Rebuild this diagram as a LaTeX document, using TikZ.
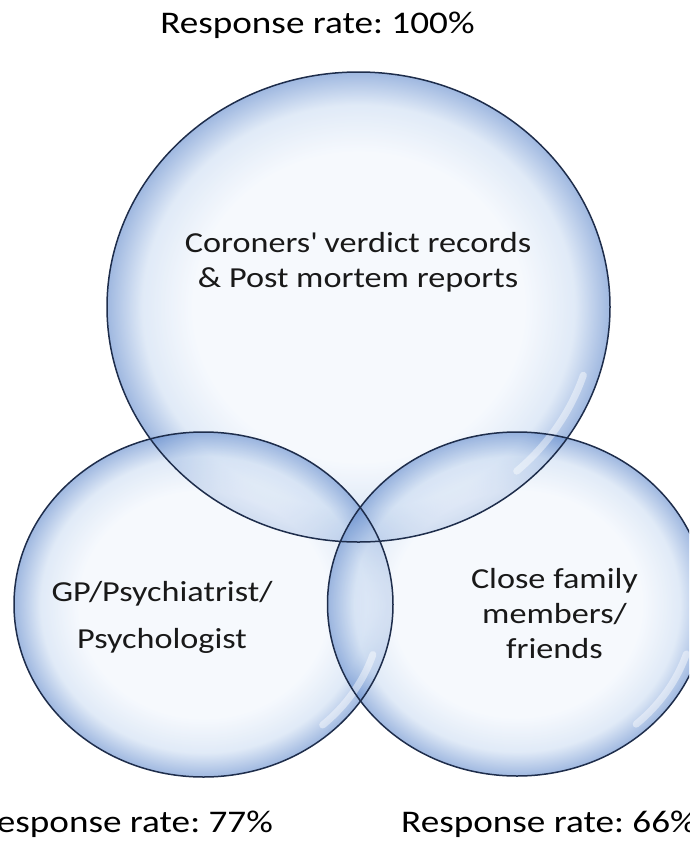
\documentclass[tikz,border=0pt]{standalone}
\usepackage{fontspec}
\setmainfont{Carlito}[FakeStretch=1.18]
\frenchspacing
\definecolor{bubcore}{RGB}{240,245,252}
\definecolor{bubmid}{RGB}{205,221,242}
\definecolor{bubrim}{RGB}{100,140,205}
\definecolor{bubline}{RGB}{30,45,75}
\definecolor{labeltext}{RGB}{25,25,25}
\pgfdeclareradialshading{bubble}{\pgfpointorigin}{color(0bp)=(bubcore); color(16.5bp)=(bubcore); color(21.5bp)=(bubmid); color(25bp)=(bubrim); color(50bp)=(bubrim)}

\begin{document}
\begin{tikzpicture}[x=1pt,y=-1pt,
  rate/.style={font=\fontsize{31.5}{38}\selectfont, text=black, inner sep=0pt},
  inlabel/.style={font=\fontsize{29}{35}\selectfont, text=labeltext, align=center, inner sep=0pt},
  bubedge/.style={draw=bubline, line width=1.5pt},
  shine/.style={white, line width=7pt, opacity=0.45, line cap=round}]
\useasboundingbox (0,0) rectangle (689,841);
\clip (0,0) rectangle (689,841);

\foreach \cx/\cy/\rx/\ry in {358.5/307/251.5/235, 203.5/604.5/189.5/172.5, 517/604/189.5/172}
  \shade[shading=bubble, fill opacity=0.62] (\cx,\cy) ellipse [x radius=\rx, y radius=\ry];

\foreach \cx/\cy/\rx/\ry in {358.5/307/251.5/235, 203.5/604.5/189.5/172.5, 517/604/189.5/172}
  \draw[shine] (\cx,\cy) ++(18:{0.94*\rx} and {0.94*\ry})
    arc [start angle=18, end angle=48, x radius=0.94*\rx, y radius=0.94*\ry];

\foreach \cx/\cy/\rx/\ry in {358.5/307/251.5/235, 203.5/604.5/189.5/172.5, 517/604/189.5/172}
  \draw[bubedge] (\cx,\cy) ellipse [x radius=\rx, y radius=\ry];

\node[rate, anchor=base] (rate100) at (317.4,33.3) {Response rate: 100\%};
\node[rate, anchor=base east] (rate77) at (273,832) {Response rate: 77\%};
\node[rate, anchor=base west] (rate66) at (401,832) {Response rate: 66\%};

\node[inlabel] (records) at (358,262) {Coroners\textquotesingle\ verdict records\\\& Post mortem reports};
\node[inlabel, font=\fontsize{29}{46.6}\selectfont] (clinician) at (162,617.7) {GP/Psychiatrist/\\Psychologist};
\node[inlabel] (family) at (554.5,613.2) {Close family\\members/\\friends};
\end{tikzpicture}
\end{document}
